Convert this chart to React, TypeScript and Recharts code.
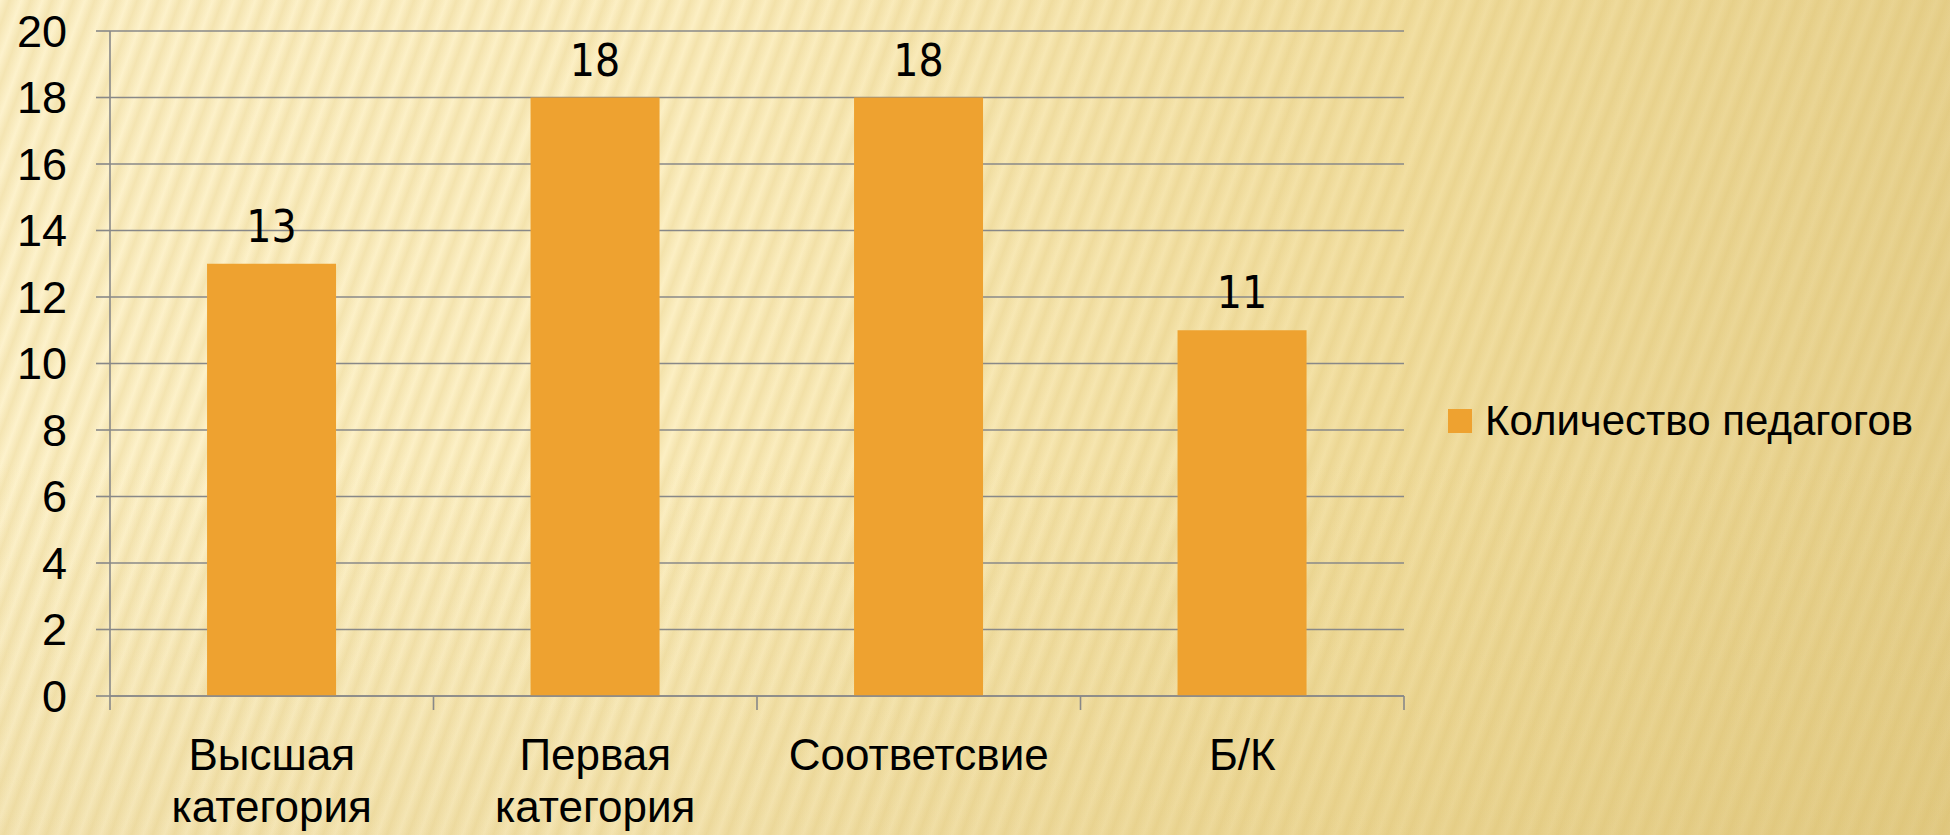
import React from 'react';
import { BarChart, Bar, XAxis, YAxis, CartesianGrid, LabelList, Legend } from 'recharts';

const categories = ['Высшая категория', 'Первая категория', 'Соответсвие', 'Б/К'];
const teacherCounts = [13, 18, 18, 11];
const yTicks = [0, 2, 4, 6, 8, 10, 12, 14, 16, 18, 20];
const seriesName = 'Количество педагогов';

const data = categories.map((c, i) => ({ name: c, value: teacherCounts[i] }));

const GRID = '#888888';
const BAR = '#EEA230';
const ARIAL = '"Liberation Sans", Arial, sans-serif';

const CategoryTick = (props: any) => {
  const { x, y, payload, index } = props;
  const half = payload && payload.offset ? payload.offset : 0;
  const words = String(payload.value).split(' ');
  const isLast = index === categories.length - 1;
  return (
    <g>
      <line x1={x - half} x2={x - half} y1={y - 14} y2={y} stroke={GRID} strokeWidth={1.6} />
      {isLast && <line x1={x + half} x2={x + half} y1={y - 14} y2={y} stroke={GRID} strokeWidth={1.6} />}
      <text x={x} y={y + 60} textAnchor="middle" fontFamily={ARIAL} fontSize={44} fill="#000">
        {words.map((w, i) => (
          <tspan key={i} x={x} dy={i === 0 ? 0 : 52}>{w}</tspan>
        ))}
      </text>
    </g>
  );
};

const LegendContent = () => (
  <div style={{ display: 'flex', alignItems: 'center', whiteSpace: 'nowrap' }}>
    <div style={{ width: 24, height: 24, background: BAR, marginRight: 13 }} />
    <span style={{ fontFamily: ARIAL, fontSize: 42, color: '#000', lineHeight: '50px' }}>{seriesName}</span>
  </div>
);

export default function App() {
  return (
    <div
      style={{
        position: 'absolute',
        left: 0,
        top: 0,
        width: 1950,
        height: 835,
        overflow: 'hidden',
        background: [
          'repeating-linear-gradient(110deg, rgba(215,185,95,0) 0px, rgba(215,185,95,0.24) 9px, rgba(215,185,95,0) 20px)',
          'linear-gradient(180deg, rgba(255,255,255,0) 55%, rgba(205,175,90,0.18) 100%)',
          'linear-gradient(95deg, #fdf2cc 0%, #fcefc3 35%, #f2dfa2 70%, #e6d08d 100%)',
        ].join(', '),
      }}
    >
      <BarChart
        width={1950}
        height={835}
        data={data}
        margin={{ top: 31, right: 546, bottom: 39, left: 0 }}
        barCategoryGap="30%"
      >
        <CartesianGrid vertical={false} stroke={GRID} strokeWidth={1.6} />
        <XAxis
          dataKey="name"
          interval={0}
          height={100}
          tickLine={false}
          tickSize={14}
          tickMargin={0}
          axisLine={{ stroke: GRID, strokeWidth: 1.6 }}
          tick={<CategoryTick />}
        />
        <YAxis
          width={110}
          domain={[0, 20]}
          ticks={yTicks}
          interval={0}
          tickSize={14}
          tickMargin={29}
          tickLine={{ stroke: GRID, strokeWidth: 1.6 }}
          axisLine={{ stroke: GRID, strokeWidth: 1.6 }}
          tick={{ fontFamily: ARIAL, fontSize: 45, fill: '#000' }}
        />
        <Legend
          layout="horizontal"
          align="center"
          verticalAlign="middle"
          content={<LegendContent />}
          wrapperStyle={{ left: 1448, top: 396, width: 500 }}
        />
        <Bar dataKey="value" name={seriesName} fill={BAR} isAnimationActive={false}>
          <LabelList
            dataKey="value"
            position="top"
            offset={22}
            style={{ fontFamily: '"DejaVu Sans Condensed", "DejaVu Sans", sans-serif', fontSize: 44, fill: '#000', fontStretch: 'condensed' }}
          />
        </Bar>
      </BarChart>
    </div>
  );
}
